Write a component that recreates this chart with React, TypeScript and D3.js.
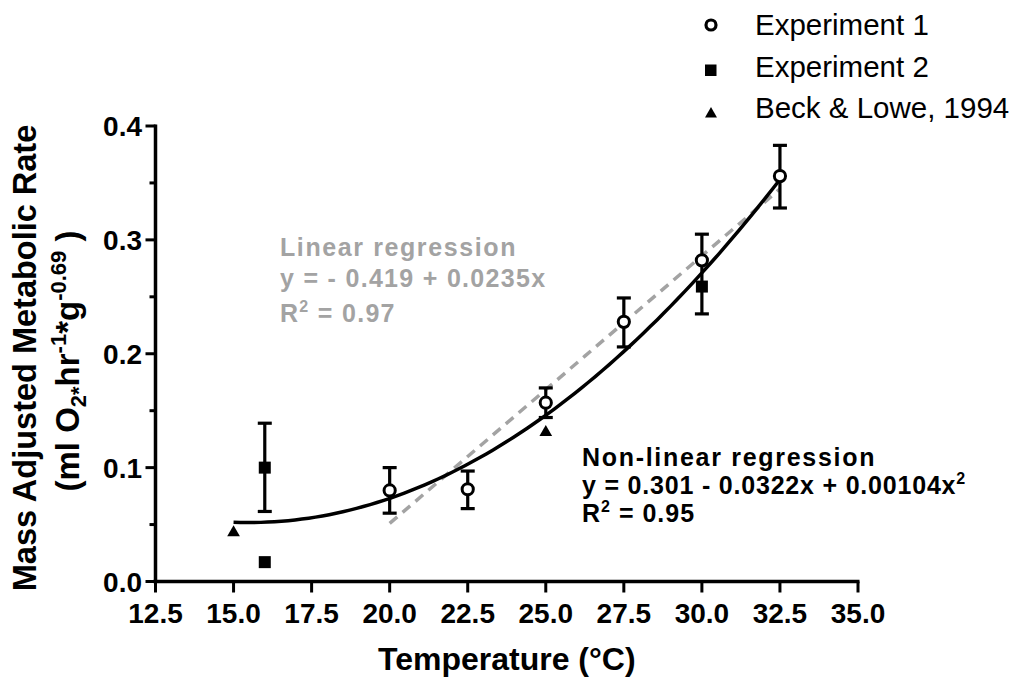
import React from "react";
import * as d3 from "d3";

const W = 1031;
const H = 679;

// Experiment 1 (open circles with error bars)
const exp1X = [20, 22.5, 25, 27.5, 30, 32.5];
const exp1Y = [0.080, 0.081, 0.157, 0.228, 0.282, 0.356];
const exp1Lo = [0.060, 0.064, 0.144, 0.206, 0.235, 0.328];
const exp1Hi = [0.100, 0.097, 0.170, 0.249, 0.305, 0.383];

// Experiment 2 (filled squares)
const exp2X = [16, 16, 30];
const exp2Y = [0.100, 0.017, 0.259];
const exp2Lo = [0.0615, null, null];
const exp2Hi = [0.139, null, null];

// Beck & Lowe, 1994 (triangles)
const beckX = [15, 25];
const beckY = [0.043, 0.131];

// regression coefficients (as printed)
const nonLin = [0.301, -0.0322, 0.00104];
const nonLinRange = [15, 32.5];
const lin = [-0.419, 0.0235];
const linRange = [20, 32.5];

const xTicks = [12.5, 15, 17.5, 20, 22.5, 25, 27.5, 30, 32.5, 35];
const yTicks = [0, 0.1, 0.2, 0.3, 0.4];
const yMinor = [0.05, 0.15, 0.25, 0.35];

const legendLabels = ["Experiment 1", "Experiment 2", "Beck & Lowe, 1994"];

const FONT = "'Liberation Sans', Arial, Helvetica, sans-serif";

export default function App() {
  const x = d3.scaleLinear().domain([12.5, 35]).range([155.5, 858]);
  const y = d3.scaleLinear().domain([0, 0.4]).range([581.5, 126]);

  const sampleX = (a: number, b: number, n: number) =>
    d3.range(n + 1).map((i) => a + ((b - a) * i) / n);

  const line = d3
    .line<[number, number]>()
    .x((d) => x(d[0]))
    .y((d) => y(d[1]));

  const nlPts: [number, number][] = sampleX(nonLinRange[0], nonLinRange[1], 80).map((t) => [
    t,
    nonLin[0] + nonLin[1] * t + nonLin[2] * t * t,
  ]);
  const lPts: [number, number][] = sampleX(linRange[0], linRange[1], 2).map((t) => [
    t,
    lin[0] + lin[1] * t,
  ]);

  const tri = d3.symbol().type(d3.symbolTriangle).size(70)();
  const triLeg = d3.symbol().type(d3.symbolTriangle).size(62)();

  const capW = 7;
  const errBar = (cx: number, lo: number, hi: number, key: string) => (
    <g key={key} stroke="#000" strokeWidth={3.2}>
      <line x1={cx} x2={cx} y1={y(lo)} y2={y(hi)} />
      <line x1={cx - capW} x2={cx + capW} y1={y(lo)} y2={y(lo)} />
      <line x1={cx - capW} x2={cx + capW} y1={y(hi)} y2={y(hi)} />
    </g>
  );

  const gray = "#a3a3a3";

  return (
    <svg
      width={W}
      height={H}
      style={{ position: "absolute", left: 0, top: 0, background: "#fff" }}
      fontFamily={FONT}
    >
      <rect x={0} y={0} width={W} height={H} fill="#fff" />

      {/* axes */}
      <g stroke="#000" strokeWidth={3.5} fill="none">
        <line x1={x(12.5)} x2={x(12.5)} y1={y(0) + 1.5} y2={y(0.4) - 1.5} />
        <line x1={x(12.5) - 2} x2={x(35) + 1.5} y1={y(0)} y2={y(0)} />
        {xTicks.map((t) => (
          <line key={"xt" + t} x1={x(t)} x2={x(t)} y1={y(0)} y2={y(0) + 11} strokeWidth={3} />
        ))}
        {yTicks.map((t) => (
          <line key={"yt" + t} x1={x(12.5) - 10} x2={x(12.5)} y1={y(t)} y2={y(t)} strokeWidth={3} />
        ))}
        {yMinor.map((t) => (
          <line key={"ym" + t} x1={x(12.5) - 6} x2={x(12.5)} y1={y(t)} y2={y(t)} strokeWidth={3} />
        ))}
      </g>

      {/* tick labels */}
      <g fontSize={28} fontWeight="bold" fill="#000">
        {xTicks.map((t) => (
          <text key={"xl" + t} x={x(t)} y={623} textAnchor="middle">
            {t.toFixed(1)}
          </text>
        ))}
        {yTicks.map((t) => (
          <text key={"yl" + t} x={142} y={y(t) + 10} textAnchor="end">
            {t.toFixed(1)}
          </text>
        ))}
      </g>

      {/* axis titles */}
      <text x={x(23.75)} y={670} textAnchor="middle" fontSize={32} fontWeight="bold">
        Temperature (°C)
      </text>
      <text
        transform="rotate(-90)"
        x={-358}
        y={36}
        textAnchor="middle"
        fontSize={32.5}
        fontWeight="bold"
      >
        Mass Adjusted Metabolic Rate
      </text>
      <text
        transform="rotate(-90)"
        x={-361}
        y={79}
        textAnchor="middle"
        fontSize={33}
        fontWeight="bold"
      >
        (ml O
        <tspan fontSize={22} dy={7}>2*</tspan>
        <tspan dy={-7}>hr</tspan>
        <tspan fontSize={22} dy={-13}>-1</tspan>
        <tspan dy={13}>*g</tspan>
        <tspan fontSize={22} dy={-13}>-0.69</tspan>
        <tspan dy={13}> )</tspan>
      </text>

      {/* regression lines */}
      <path
        d={line(lPts) || ""}
        fill="none"
        stroke={gray}
        strokeWidth={3.5}
        strokeDasharray="10 7"
      />
      <path d={line(nlPts) || ""} fill="none" stroke="#000" strokeWidth={3.5} />

      {/* error bars */}
      {exp1X.map((t, i) => errBar(x(t), exp1Lo[i], exp1Hi[i], "e1" + i))}
      {exp2X.map((t, i) =>
        exp2Lo[i] != null && exp2Hi[i] != null
          ? errBar(x(t), exp2Lo[i] as number, exp2Hi[i] as number, "e2" + i)
          : null
      )}

      {/* Experiment 2 squares */}
      {exp2X.map((t, i) => (
        <rect key={"s" + i} x={x(t) - 6} y={y(exp2Y[i]) - 6} width={12} height={12} fill="#000" />
      ))}
      {/* Beck triangles */}
      {beckX.map((t, i) => (
        <path key={"t" + i} d={tri || ""} transform={`translate(${x(t)},${y(beckY[i])})`} fill="#000" />
      ))}
      {/* Experiment 1 circles */}
      {exp1X.map((t, i) => (
        <circle
          key={"c" + i}
          cx={x(t)}
          cy={y(exp1Y[i])}
          r={5.6}
          fill="#fff"
          stroke="#000"
          strokeWidth={3}
        />
      ))}

      {/* annotations */}
      <g fill={gray} fontWeight="bold" fontSize={25}>
        <text x={280} y={256} letterSpacing={1.6}>Linear regression</text>
        <text x={280} y={287} letterSpacing={1.3}>y = - 0.419 + 0.0235x</text>
        <text x={280} y={322} letterSpacing={1.3}>
          R<tspan fontSize={16} dy={-10}>2</tspan>
          <tspan dy={10}> = 0.97</tspan>
        </text>
      </g>
      <g fill="#000" fontWeight="bold" fontSize={25}>
        <text x={582} y={466} letterSpacing={1.7}>Non-linear regression</text>
        <text x={582} y={494} letterSpacing={0.8}>
          y = 0.301 - 0.0322x + 0.00104x<tspan fontSize={16} dy={-10}>2</tspan>
        </text>
        <text x={582} y={522} letterSpacing={1}>
          R<tspan fontSize={16} dy={-10}>2</tspan>
          <tspan dy={10}> =  0.95</tspan>
        </text>
      </g>

      {/* legend */}
      <g>
        <circle cx={711} cy={25} r={5} fill="#fff" stroke="#000" strokeWidth={3.2} />
        <rect x={705} y={64.5} width={11.5} height={11.5} fill="#000" />
        <path d={triLeg || ""} transform="translate(711,114)" fill="#000" />
        {legendLabels.map((l, i) => (
          <text key={l} x={755} y={35 + i * 41.5} fontSize={29.5} fill="#000">
            {l}
          </text>
        ))}
      </g>
    </svg>
  );
}
